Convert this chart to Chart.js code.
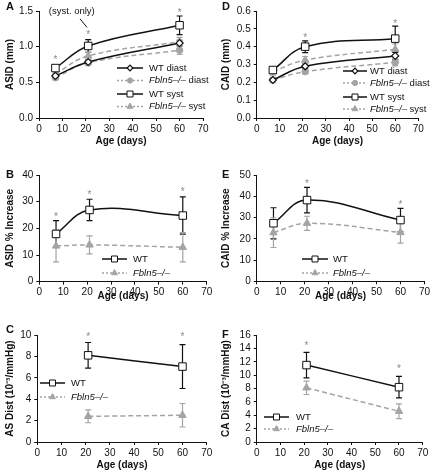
<!DOCTYPE html>
<html>
<head>
<meta charset="utf-8">
<script src="https://cdn.jsdelivr.net/npm/chart.js@4.4.0/dist/chart.umd.min.js"></script>
<style>
  html, body { margin: 0; padding: 0; background: #fff; }
  #wrap { position: relative; width: 432px; height: 472px; }
  canvas { position: absolute; }
</style>
</head>
<body>
<div id="wrap">
  <canvas id="chartA" width="216" height="160" style="left:0;top:0"></canvas>
  <canvas id="chartD" width="216" height="160" style="left:216px;top:0"></canvas>
  <canvas id="chartB" width="216" height="160" style="left:0;top:160px"></canvas>
  <canvas id="chartE" width="216" height="160" style="left:216px;top:160px"></canvas>
  <canvas id="chartC" width="216" height="152" style="left:0;top:320px"></canvas>
  <canvas id="chartF" width="216" height="152" style="left:216px;top:320px"></canvas>
</div>
<script>
// возраст (дни)
const ages = [7, 21, 60];
const distAges = [21, 60];

// A — ASID (mm)
const asidWtDiast = [0.59, 0.785, 1.05];
const asidWtDiastErr = [0.02, 0.03, 0.04];
const asidKoDiast = [0.565, 0.775, 0.95];
const asidKoDiastErr = [0.03, 0.04, 0.06];
const asidWtSyst = [0.70, 1.01, 1.30];
const asidWtSystErr = [0.03, 0.09, 0.13];
const asidKoSyst = [0.62, 0.87, 1.07];
const asidKoSystErr = [0.04, 0.05, 0.06];
const asidStarX = [7, 21, 60];
const asidStarY = [0.84, 1.2, 1.5];

// D — CAID (mm)
const caidWtDiast = [0.213, 0.29, 0.348];
const caidWtDiastErr = [0.01, 0.015, 0.02];
const caidKoDiast = [0.213, 0.26, 0.312];
const caidKoDiastErr = [0.015, 0.012, 0.02];
const caidWtSyst = [0.269, 0.40, 0.445];
const caidWtSystErr = [0.015, 0.033, 0.07];
const caidKoSyst = [0.26, 0.325, 0.385];
const caidKoSystErr = [0.02, 0.02, 0.03];
const caidStarX = [21, 60];
const caidStarY = [0.46, 0.54];

// B — ASID % Increase
const asidIncWt = [17.9, 26.9, 24.8];
const asidIncWtErr = [5, 4, 7];
const asidIncKo = [13.4, 13.8, 12.9];
const asidIncKoErr = [6, 3.4, 5.5];
const asidIncStarX = [7, 21, 60];
const asidIncStarY = [25, 33.5, 34.4];

// E — CAID % Increase
const caidIncWt = [27.3, 38.2, 28.8];
const caidIncWtErr = [7.3, 6, 5.5];
const caidIncKo = [22.9, 27.3, 23];
const caidIncKoErr = [7, 3.3, 5];
const caidIncStarX = [21, 60];
const caidIncStarY = [47, 37];

// C — AS Dist
const asDistWt = [8.1, 7.05];
const asDistWtErr = [1.2, 2.05];
const asDistKo = [2.4, 2.5];
const asDistKoErr = [0.6, 1.1];
const asDistStarX = [21, 60];
const asDistStarY = [10, 10];

// F — CA Dist
const caDistWt = [11.5, 8.2];
const caDistWtErr = [1.9, 1.6];
const caDistKo = [8.1, 4.6];
const caDistKoErr = [1.0, 1.1];
const caDistStarX = [21, 60];
const caDistStarY = [14.75, 11.3];

const FONT = '"Liberation Sans", Arial, Helvetica, sans-serif';
const INK = '#111111';
const GREY = '#a4a4a4';
const STAR = '#8a8a8a';

// стили серий
const wtDiastStyle = { borderColor: INK, backgroundColor: '#fff', pointStyle: 'rectRot', pointRadius: 3.5, pointBorderWidth: 1.2, borderDash: [] };
const koDiastStyle = { borderColor: GREY, backgroundColor: GREY, pointStyle: 'circle', pointRadius: 3.3, pointBorderWidth: 1, borderDash: [5, 3] };
const wtSystStyle = { borderColor: INK, backgroundColor: '#fff', pointStyle: 'rect', pointRadius: 5.3, pointBorderWidth: 1, borderDash: [] };
const koSystStyle = { borderColor: GREY, backgroundColor: GREY, pointStyle: 'triangle', pointRadius: 4.3, pointBorderWidth: 1, borderDash: [5, 3] };

function series(style, xs, ys, errs, order) {
  return {
    data: xs.map((x, i) => ({ x: x, y: ys[i] })),
    errors: errs,
    order: order,
    tension: 0.4,
    borderWidth: 1.5,
    borderColor: style.borderColor,
    borderDash: style.borderDash,
    pointStyle: style.pointStyle,
    pointRadius: style.pointRadius,
    pointBorderWidth: style.pointBorderWidth,
    pointBackgroundColor: style.backgroundColor,
    pointBorderColor: style.borderColor,
    fill: false
  };
}

// плагин: усы ошибок, звёздочки, легенда, буква панели
function makeExtras(cfg) {
  return {
    id: 'panelExtras',
    beforeDatasetsDraw(chart) {
      const ctx = chart.ctx, xs = chart.scales.x, ys = chart.scales.y;
      chart.data.datasets.forEach(ds => {
        ctx.save();
        ctx.strokeStyle = ds.borderColor;
        ctx.lineWidth = 1.2;
        ctx.setLineDash([]);
        ds.data.forEach((p, i) => {
          const x = xs.getPixelForValue(p.x);
          const y1 = ys.getPixelForValue(p.y + ds.errors[i]);
          const y2 = ys.getPixelForValue(p.y - ds.errors[i]);
          ctx.beginPath();
          ctx.moveTo(x, y1); ctx.lineTo(x, y2);
          ctx.moveTo(x - 3, y1); ctx.lineTo(x + 3, y1);
          ctx.moveTo(x - 3, y2); ctx.lineTo(x + 3, y2);
          ctx.stroke();
        });
        ctx.restore();
      });
    },
    afterDraw(chart) {
      const ctx = chart.ctx, xs = chart.scales.x, ys = chart.scales.y;
      // звёздочки
      ctx.save();
      ctx.fillStyle = STAR;
      ctx.font = '10px ' + FONT;
      ctx.textAlign = 'center';
      ctx.textBaseline = 'middle';
      cfg.starX.forEach((sx, i) => {
        ctx.fillText('*', xs.getPixelForValue(sx), ys.getPixelForValue(cfg.starY[i]) + 2.5);
      });
      ctx.restore();

      // примечание
      if (cfg.note) {
        const n = cfg.note;
        ctx.save();
        ctx.fillStyle = INK;
        ctx.font = '9.5px ' + FONT;
        ctx.textAlign = 'center';
        ctx.textBaseline = 'middle';
        ctx.fillText(n.text, xs.getPixelForValue(n.x), ys.getPixelForValue(n.y));
        ctx.strokeStyle = INK;
        ctx.lineWidth = 1;
        ctx.beginPath();
        ctx.moveTo(xs.getPixelForValue(n.from[0]), ys.getPixelForValue(n.from[1]));
        ctx.lineTo(xs.getPixelForValue(n.to[0]), ys.getPixelForValue(n.to[1]));
        ctx.stroke();
        ctx.restore();
      }

      // легенда
      const lg = cfg.legend;
      lg.items.forEach((it, i) => {
        const y = lg.y[i], st = it.style;
        ctx.save();
        ctx.strokeStyle = st.borderColor;
        ctx.lineWidth = 1.5;
        ctx.setLineDash(st.borderDash.length ? [2, 2] : []);
        ctx.beginPath();
        ctx.moveTo(lg.x1, y);
        ctx.lineTo(lg.x2, y);
        ctx.stroke();
        ctx.setLineDash([]);
        ctx.fillStyle = st.backgroundColor;
        ctx.lineWidth = st.pointBorderWidth;
        Chart.helpers.drawPoint(ctx, { pointStyle: st.pointStyle, radius: st.pointRadius * 0.8, rotation: 0, borderWidth: st.pointBorderWidth }, (lg.x1 + lg.x2) / 2, y);
        ctx.restore();

        ctx.save();
        ctx.fillStyle = INK;
        ctx.textBaseline = 'middle';
        ctx.textAlign = 'left';
        let x = lg.tx;
        if (it.italic) {
          ctx.font = 'italic 9.5px ' + FONT;
          ctx.fillText(it.italic, x, y);
          x += ctx.measureText(it.italic).width;
        }
        if (it.text) {
          ctx.font = '9.5px ' + FONT;
          ctx.fillText(it.text, x, y);
        }
        ctx.restore();
      });

      // буква панели
      ctx.save();
      ctx.fillStyle = INK;
      ctx.font = 'bold 11px ' + FONT;
      ctx.textAlign = 'left';
      ctx.textBaseline = 'middle';
      ctx.fillText(cfg.letter, cfg.letterPos[0], cfg.letterPos[1]);
      ctx.restore();
    }
  };
}

function makeChart(id, cfg) {
  const canvas = document.getElementById(id);
  const W = canvas.width, H = canvas.height, a = cfg.area;
  const tickFont = { family: FONT, size: 10 };
  const titleFont = { family: FONT, size: 10, weight: 'bold' };
  return new Chart(canvas, {
    type: 'line',
    data: { datasets: cfg.datasets },
    options: {
      responsive: false,
      animation: false,
      events: [],
      layout: { padding: { left: 0, top: a.t, right: W - a.r, bottom: H - a.b - cfg.xh } },
      plugins: { legend: { display: false }, tooltip: { enabled: false } },
      scales: {
        x: {
          type: 'linear', min: 0, max: 70,
          ticks: { stepSize: 10, font: tickFont, color: INK, padding: 2, maxRotation: 0, autoSkip: false },
          grid: { drawOnChartArea: false, drawTicks: true, tickLength: 3, color: INK },
          border: { color: INK, width: 1 },
          title: { display: true, text: 'Age (days)', font: titleFont, color: INK, padding: 0 },
          afterFit: s => { s.height = cfg.xh; }
        },
        y: {
          type: 'linear', min: cfg.yMin, max: cfg.yMax,
          ticks: {
            stepSize: cfg.yStep, font: tickFont, color: INK, padding: 3, autoSkip: false,
            callback: v => v.toFixed(cfg.dec)
          },
          grid: { drawOnChartArea: false, drawTicks: true, tickLength: 3, color: INK },
          border: { color: INK, width: 1 },
          title: { display: true, text: cfg.yTitle, font: titleFont, color: INK, padding: { top: 4, bottom: 0 } },
          afterFit: s => { s.width = a.l; }
        }
      }
    },
    plugins: [makeExtras(cfg)]
  });
}

makeChart('chartA', {
  area: { l: 39, r: 203, t: 11, b: 118 }, xh: 29,
  yMin: 0, yMax: 1.5, yStep: 0.5, dec: 1, yTitle: 'ASID (mm)',
  datasets: [
    series(wtSystStyle, ages, asidWtSyst, asidWtSystErr, 1),
    series(wtDiastStyle, ages, asidWtDiast, asidWtDiastErr, 2),
    series(koSystStyle, ages, asidKoSyst, asidKoSystErr, 3),
    series(koDiastStyle, ages, asidKoDiast, asidKoDiastErr, 4)
  ],
  starX: asidStarX, starY: asidStarY,
  note: { text: '(syst. only)', x: 14, y: 1.49, from: [17.5, 1.39], to: [20.5, 1.27] },
  legend: {
    x1: 117, x2: 143, tx: 149, y: [68, 80.5, 94, 106.5],
    items: [
      { style: wtDiastStyle, text: 'WT diast' },
      { style: koDiastStyle, italic: 'Fbln5–/–', text: ' diast' },
      { style: wtSystStyle, text: 'WT syst' },
      { style: koSystStyle, italic: 'Fbln5–/–', text: ' syst' }
    ]
  },
  letter: 'A', letterPos: [6, 7]
});

makeChart('chartD', {
  area: { l: 40.7, r: 202.3, t: 11, b: 118 }, xh: 29,
  yMin: 0, yMax: 0.6, yStep: 0.1, dec: 1, yTitle: 'CAID (mm)',
  datasets: [
    series(wtSystStyle, ages, caidWtSyst, caidWtSystErr, 1),
    series(wtDiastStyle, ages, caidWtDiast, caidWtDiastErr, 2),
    series(koSystStyle, ages, caidKoSyst, caidKoSystErr, 3),
    series(koDiastStyle, ages, caidKoDiast, caidKoDiastErr, 4)
  ],
  starX: caidStarX, starY: caidStarY,
  legend: {
    x1: 127, x2: 151, tx: 154, y: [71, 83, 97, 109],
    items: [
      { style: wtDiastStyle, text: 'WT diast' },
      { style: koDiastStyle, italic: 'Fbln5–/–', text: ' diast' },
      { style: wtSystStyle, text: 'WT syst' },
      { style: koSystStyle, italic: 'Fbln5–/–', text: ' syst' }
    ]
  },
  letter: 'D', letterPos: [6, 7]
});

makeChart('chartB', {
  area: { l: 39.3, r: 206.7, t: 15, b: 121.7 }, xh: 21,
  yMin: 0, yMax: 40, yStep: 10, dec: 0, yTitle: 'ASID % Increase',
  datasets: [
    series(wtSystStyle, ages, asidIncWt, asidIncWtErr, 1),
    series(koSystStyle, ages, asidIncKo, asidIncKoErr, 2)
  ],
  starX: asidIncStarX, starY: asidIncStarY,
  legend: {
    x1: 102, x2: 127, tx: 133, y: [99, 113],
    items: [
      { style: wtSystStyle, text: 'WT' },
      { style: koSystStyle, italic: 'Fbln5–/–' }
    ]
  },
  letter: 'B', letterPos: [6, 15]
});

makeChart('chartE', {
  area: { l: 40.7, r: 209.3, t: 15, b: 121.3 }, xh: 21.4,
  yMin: 0, yMax: 50, yStep: 10, dec: 0, yTitle: 'CAID % Increase',
  datasets: [
    series(wtSystStyle, ages, caidIncWt, caidIncWtErr, 1),
    series(koSystStyle, ages, caidIncKo, caidIncKoErr, 2)
  ],
  starX: caidIncStarX, starY: caidIncStarY,
  legend: {
    x1: 86, x2: 112, tx: 117, y: [99, 113],
    items: [
      { style: wtSystStyle, text: 'WT' },
      { style: koSystStyle, italic: 'Fbln5–/–' }
    ]
  },
  letter: 'E', letterPos: [6, 15]
});

makeChart('chartC', {
  area: { l: 37.3, r: 206.7, t: 15, b: 122 }, xh: 29.7,
  yMin: 0, yMax: 10, yStep: 2, dec: 0, yTitle: 'AS Dist (10⁻³/mmHg)',
  datasets: [
    series(wtSystStyle, distAges, asDistWt, asDistWtErr, 1),
    series(koSystStyle, distAges, asDistKo, asDistKoErr, 2)
  ],
  starX: asDistStarX, starY: asDistStarY,
  legend: {
    x1: 40, x2: 65, tx: 71, y: [63, 77],
    items: [
      { style: wtSystStyle, text: 'WT' },
      { style: koSystStyle, italic: 'Fbln5–/–' }
    ]
  },
  letter: 'C', letterPos: [6, 10]
});

makeChart('chartF', {
  area: { l: 40.7, r: 206.7, t: 15, b: 122 }, xh: 29.7,
  yMin: 0, yMax: 16, yStep: 2, dec: 0, yTitle: 'CA Dist (10⁻³/mmHg)',
  datasets: [
    series(wtSystStyle, distAges, caDistWt, caDistWtErr, 1),
    series(koSystStyle, distAges, caDistKo, caDistKoErr, 2)
  ],
  starX: caDistStarX, starY: caDistStarY,
  legend: {
    x1: 48, x2: 73, tx: 80, y: [97, 109],
    items: [
      { style: wtSystStyle, text: 'WT' },
      { style: koSystStyle, italic: 'Fbln5–/–' }
    ]
  },
  letter: 'F', letterPos: [6, 15]
});
</script>
</body>
</html>
